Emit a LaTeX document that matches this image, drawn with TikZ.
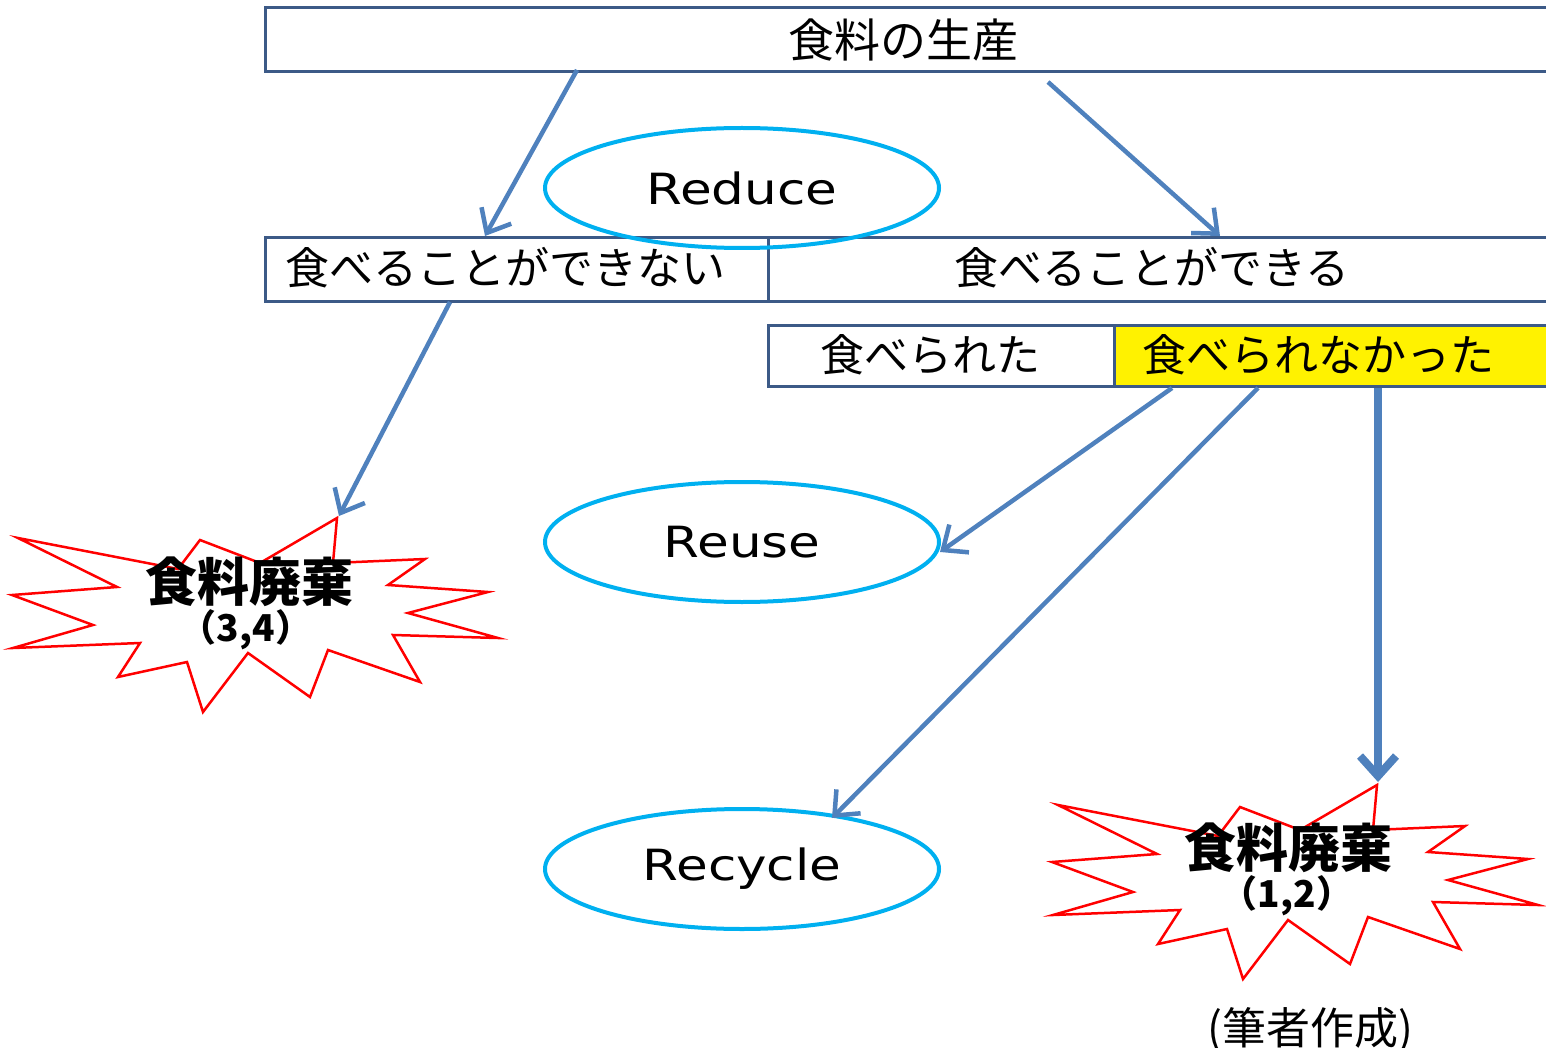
\documentclass[tikz,border=0pt]{standalone}
\usepackage{fontspec}
\newfontfamily\jp{Noto Sans CJK JP}
\newfontfamily\lat[FakeStretch=1.2]{DejaVu Sans}
\usetikzlibrary{arrows.meta,shapes.geometric}
\definecolor{boxline}{RGB}{60,90,135}
\definecolor{arrowc}{RGB}{79,129,189}
\definecolor{ellc}{RGB}{0,176,240}
\begin{document}
\begin{tikzpicture}[x=1pt,y=-1pt,
  box/.style={draw=boxline, line width=3pt, anchor=north west, inner sep=0pt, outer sep=0pt, rectangle},
  jtxt/.style={font=\jp\fontsize{44}{50}\selectfont, inner sep=0pt},
  toptxt/.style={font=\jp\fontsize{46}{50}\selectfont, inner sep=0pt},
  wtxt/.style={font=\jp\bfseries\fontsize{52}{56}\selectfont, inner sep=0pt},
  ntxt/.style={font=\jp\bfseries\fontsize{37}{40}\selectfont, inner sep=0pt},
  rell/.style={ellipse, draw=ellc, line width=4pt, minimum width=394pt, minimum height=120pt, inner sep=0pt, font=\lat\fontsize{43}{46}\selectfont},
  flow/.style={draw=arrowc, line width=4.5pt, -{Straight Barb[length=20pt,width=34pt]}},
  flowthick/.style={draw=arrowc, line width=8pt, -{Straight Barb[length=20pt,width=36pt]}},
  burst/.pic={
    \draw[red, line width=2.5pt, line join=miter]
      (-232,-77) -- (-133,-28) -- (-238,-20) -- (-157,10) -- (-237,33) -- (-110,28)
      -- (-132,62) -- (-63,47) -- (-47,97) -- (-2,38) -- (60,82) -- (78,35)
      -- (170,67) -- (143,20) -- (248,23) -- (158,-2) -- (238,-23) -- (138,-30)
      -- (175,-56) -- (83,-52) -- (87,-97) -- (10,-52) -- (-50,-75) -- (-72,-46) -- cycle;
  }
]
\useasboundingbox (0,0) rectangle (1546,1048);
\clip (0,0) rectangle (1546,1048);

% boxes
\node[box, minimum width=1300pt, minimum height=64pt] (prod) at (265,8) {};
\node[box, minimum width=503pt, minimum height=64pt] (cannot) at (265,238) {};
\node[box, minimum width=800pt, minimum height=64pt] (can) at (768,238) {};
\node[box, minimum width=346pt, minimum height=61pt] (eaten) at (768,325) {};
\node[box, minimum width=460pt, minimum height=61pt, fill=yellow] (noteaten) at (1114,325) {};

% box texts
\node[toptxt] (prodt) at (903,40) {食料の生産};
\node[jtxt] (cannott) at (505,268) {食べることができない};
\node[jtxt] (cant) at (1152,268) {食べることができる};
\node[jtxt] (eatent) at (930,355) {食べられた};
\node[jtxt] (noteatent) at (1318,355) {食べられなかった};

% ellipses
\node[rell] (reduce) at (742,188) {Reduce};
\node[rell] (reuse) at (742,542) {Reuse};
\node[rell] (recycle) at (742,869) {Recycle};

% bursts
\pic (burstL) at (250,615) {burst};
\pic (burstR) at (1290,882) {burst};
\node[wtxt] (wasteL) at (249,582) {食料廃棄};
\node[ntxt] (wasteLn) at (246,630) {（3,4）};
\node[wtxt] (wasteR) at (1288,848) {食料廃棄};
\node[ntxt] (wasteRn) at (1287,896) {（1,2）};

% arrow end points
\coordinate (a1s) at (577,70);
\coordinate (a1e) at (485,236);
\coordinate (a2s) at (1048,82);
\coordinate (a2e) at (1220,236);
\coordinate (a3s) at (450,302);
\coordinate (a3e) at (339,516);
\coordinate (a4s) at (1172,388);
\coordinate (a4e) at (940,552);
\coordinate (a5s) at (1258,388);
\coordinate (a5e) at (832,818);
\coordinate (a6s) at (1378,388);
\coordinate (a6e) at (1378,782);

\draw[flow] (a1s) -- (a1e);
\draw[flow] (a2s) -- (a2e);
\draw[flow] (a3s) -- (a3e);
\draw[flow] (a4s) -- (a4e);
\draw[flow] (a5s) -- (a5e);
\draw[flowthick] (a6s) -- (a6e);

% source note
\node[font=\jp\fontsize{44}{48}\selectfont, inner sep=0pt] (note) at (1310,1030) {(筆者作成)};
\end{tikzpicture}
\end{document}
